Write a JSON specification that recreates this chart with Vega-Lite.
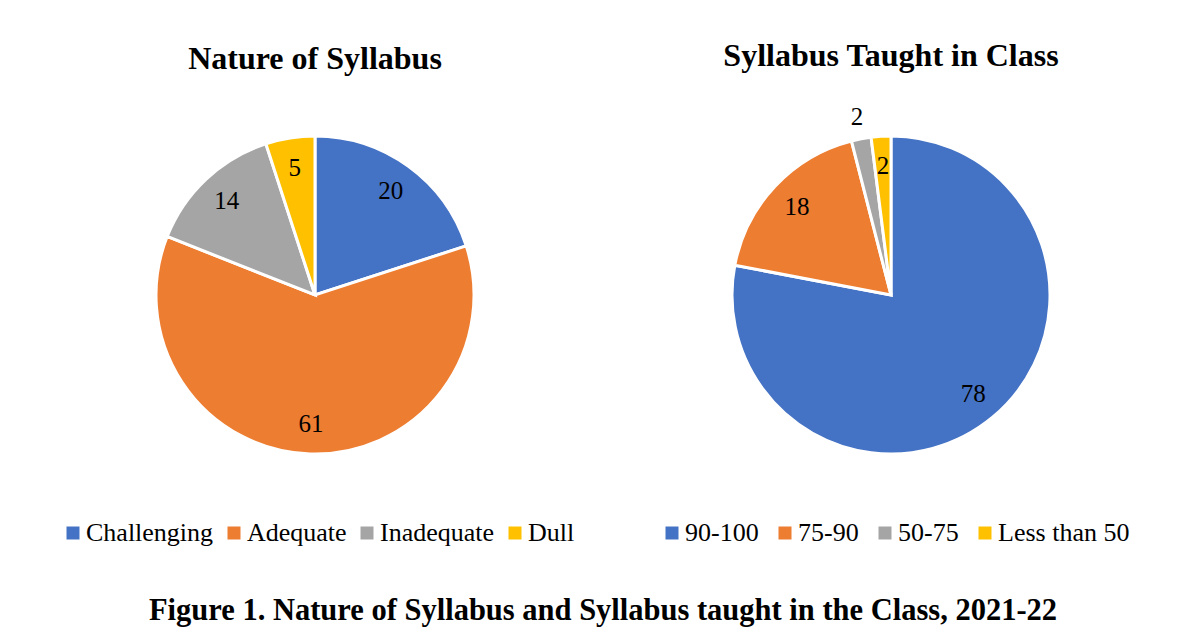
{
  "$schema": "https://vega.github.io/schema/vega-lite/v6.json",
  "padding": {"left": 45, "top": 40, "right": 0, "bottom": 0},
  "config": {"view": {"stroke": null}, "font": "Liberation Serif"},
  "title": {"text": "Figure 1. Nature of Syllabus and Syllabus taught in the Class, 2021-22", "orient": "bottom", "anchor": "middle", "fontSize": 30.5, "fontWeight": "bold", "font": "Liberation Serif", "offset": 50, "color": "#000000"},
  "spacing": 36,
  "resolve": {"scale": {"color": "independent", "theta": "independent"}},
  "hconcat": [
    {
      "width": 540, "height": 380,
      "title": {"text": "Nature of Syllabus", "fontSize": 32, "fontWeight": "bold", "font": "Liberation Serif", "offset": 29, "color": "#000000", "anchor": "middle"},
      "data": {"values": [
        {"cat": "Challenging", "value": 20, "idx": 1},
        {"cat": "Adequate", "value": 61, "idx": 2},
        {"cat": "Inadequate", "value": 14, "idx": 3},
        {"cat": "Dull", "value": 5, "idx": 4}
      ]},
      "encoding": {
        "theta": {"field": "value", "type": "quantitative", "stack": true},
        "order": {"field": "idx", "type": "quantitative"}
      },
      "layer": [
        {
          "mark": {"type": "arc", "outerRadius": 159, "stroke": "#ffffff", "strokeWidth": 3},
          "encoding": {
            "color": {"field": "cat", "type": "nominal", "sort": null,
              "scale": {"range": ["#4472C4", "#ED7D31", "#A5A5A5", "#FFC000"]},
              "legend": {"orient": "none", "legendX": 15, "legendY": 415, "direction": "horizontal", "columns": 4, "title": null, "symbolType": "square", "symbolSize": 169, "symbolStrokeWidth": 0, "labelFontSize": 26, "labelFont": "Liberation Serif", "labelColor": "#000000", "columnPadding": 7, "labelOffset": 0, "labelLimit": 300}}
          }
        },
        {
          "mark": {"type": "text", "radius": 129, "fontSize": 25, "font": "Liberation Serif"},
          "encoding": {
            "text": {"field": "value", "type": "quantitative"},
            "detail": {"field": "cat", "type": "nominal"},
            "color": {"value": "#000000"}
          }
        }
      ]
    },
    {
      "width": 540, "height": 380,
      "title": {"text": "Syllabus Taught in Class", "fontSize": 32, "fontWeight": "bold", "font": "Liberation Serif", "offset": 29, "color": "#000000", "anchor": "middle"},
      "data": {"values": [
        {"cat": "90-100", "value": 78, "idx": 1},
        {"cat": "75-90", "value": 18, "idx": 2},
        {"cat": "50-75", "value": 2, "idx": 3},
        {"cat": "Less than 50", "value": 2, "idx": 4}
      ]},
      "encoding": {
        "theta": {"field": "value", "type": "quantitative", "stack": true},
        "order": {"field": "idx", "type": "quantitative"}
      },
      "layer": [
        {
          "mark": {"type": "arc", "outerRadius": 159, "stroke": "#ffffff", "strokeWidth": 3},
          "encoding": {
            "color": {"field": "cat", "type": "nominal", "sort": null,
              "scale": {"range": ["#4472C4", "#ED7D31", "#A5A5A5", "#FFC000"]},
              "legend": {"orient": "none", "legendX": 38, "legendY": 415, "direction": "horizontal", "columns": 4, "title": null, "symbolType": "square", "symbolSize": 169, "symbolStrokeWidth": 0, "labelFontSize": 26, "labelFont": "Liberation Serif", "labelColor": "#000000", "columnPadding": 13, "labelOffset": 0, "labelLimit": 300}}
          }
        },
        {
          "mark": {"type": "text", "radius": 129, "fontSize": 25, "font": "Liberation Serif"},
          "encoding": {
            "text": {"condition": {"test": "datum.cat === '50-75'", "value": ""}, "field": "value", "type": "quantitative"},
            "detail": {"field": "cat", "type": "nominal"},
            "color": {"value": "#000000"}
          }
        },
        {
          "mark": {"type": "text", "radius": 181, "fontSize": 25, "font": "Liberation Serif"},
          "encoding": {
            "text": {"condition": {"test": "datum.cat !== '50-75'", "value": ""}, "field": "value", "type": "quantitative"},
            "detail": {"field": "cat", "type": "nominal"},
            "color": {"value": "#000000"}
          }
        }
      ]
    }
  ]
}
